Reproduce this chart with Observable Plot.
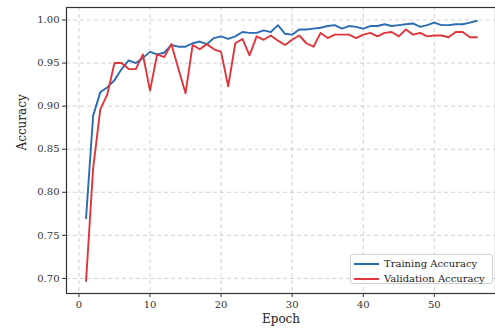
<!DOCTYPE html>
<html><head><meta charset="utf-8">
<script src="https://cdn.jsdelivr.net/npm/d3@7"></script>
<script src="https://cdn.jsdelivr.net/npm/@observablehq/plot@0.6"></script>
<style>
body{margin:0;background:#fff;}
#wrap{position:relative;width:495px;height:331px;overflow:hidden;font-family:"DejaVu Serif",serif;}
.legend{position:absolute;left:350px;top:254px;width:141px;height:28px;border:1px solid #d0d0d0;border-radius:3px;background:rgba(255,255,255,0.85);font-size:10px;color:#222;}
.item{position:absolute;left:3px;height:12px;line-height:12px;white-space:nowrap;}
.sw{display:inline-block;width:25px;height:2px;vertical-align:middle;margin-right:5px;position:relative;top:-1px;}
</style></head><body><div id="wrap"></div><script>
const epochs = [1,2,3,4,5,6,7,8,9,10,11,12,13,14,15,16,17,18,19,20,21,22,23,24,25,26,27,28,29,30,31,32,33,34,35,36,37,38,39,40,41,42,43,44,45,46,47,48,49,50,51,52,53,54,55,56];
const trainAcc = [0.770,0.889,0.916,0.922,0.930,0.943,0.953,0.950,0.956,0.963,0.960,0.962,0.971,0.969,0.969,0.973,0.975,0.972,0.979,0.981,0.978,0.981,0.986,0.985,0.985,0.988,0.986,0.994,0.984,0.983,0.989,0.989,0.990,0.991,0.993,0.994,0.990,0.993,0.992,0.990,0.993,0.993,0.995,0.993,0.994,0.995,0.996,0.992,0.994,0.997,0.994,0.994,0.995,0.995,0.997,0.999];
const valAcc = [0.697,0.828,0.896,0.914,0.950,0.950,0.943,0.943,0.960,0.918,0.960,0.957,0.972,0.943,0.915,0.971,0.966,0.972,0.966,0.963,0.923,0.973,0.978,0.959,0.981,0.977,0.982,0.976,0.971,0.977,0.982,0.973,0.969,0.985,0.979,0.983,0.983,0.983,0.979,0.983,0.985,0.981,0.985,0.986,0.981,0.989,0.983,0.985,0.981,0.982,0.982,0.980,0.986,0.986,0.980,0.980];
const xTicks = [0,10,20,30,40,50];
const yTicks = [0.70,0.75,0.80,0.85,0.90,0.95,1.00];
const seriesNames = ["Training Accuracy","Validation Accuracy"];
const colors = ["#2a6db3","#e0353b"];

const rows = [];
epochs.forEach((e,i)=>{
  rows.push({epoch:e, acc:trainAcc[i], s:seriesNames[0]});
});
epochs.forEach((e,i)=>{
  rows.push({epoch:e, acc:valAcc[i], s:seriesNames[1]});
});

const chart = Plot.plot({
  width:495, height:331,
  marginLeft:66, marginTop:7, marginBottom:38, marginRight:0,
  x:{domain:[-1.75,58.75], range:[66,496]},
  y:{domain:[0.6825,1.0145]},
  color:{domain:seriesNames, range:colors},
  style:{fontFamily:"DejaVu Serif, serif", fontSize:"10px", color:"#333", background:"white"},
  marks:[
    Plot.gridX(xTicks,{stroke:"#b0b0b0", strokeOpacity:0.6, strokeDasharray:"4,3"}),
    Plot.gridY(yTicks,{stroke:"#b0b0b0", strokeOpacity:0.6, strokeDasharray:"4,3"}),
    Plot.line(rows,{x:"epoch", y:"acc", z:"s", stroke:"s", strokeWidth:1.9}),
    Plot.frame({stroke:"#333", strokeWidth:1.2}),
    Plot.axisX(xTicks,{tickSize:4, tickPadding:3, tickFormat:d=>String(d), label:null, stroke:"#333", fill:"#333"}),
    Plot.axisY(yTicks,{tickSize:4, tickPadding:3, tickFormat:d3.format(".2f"), label:null, stroke:"#333", fill:"#333"}),
    Plot.text(["Epoch"],{frameAnchor:"bottom", dy:29, fontSize:12, fill:"#222"}),
    Plot.text(["Accuracy"],{frameAnchor:"left", dx:-44, rotate:-90, fontSize:12, fill:"#222"})
  ]
});
const wrap = document.getElementById("wrap");
wrap.appendChild(chart);
const leg = document.createElement("div");
leg.className = "legend";
seriesNames.forEach((n,i)=>{
  const it = document.createElement("div");
  it.className = "item";
  it.style.top = (3 + i*15) + "px";
  const sw = document.createElement("span");
  sw.className = "sw";
  sw.style.background = colors[i];
  it.appendChild(sw);
  it.appendChild(document.createTextNode(n));
  leg.appendChild(it);
});
wrap.appendChild(leg);
</script></body></html>
